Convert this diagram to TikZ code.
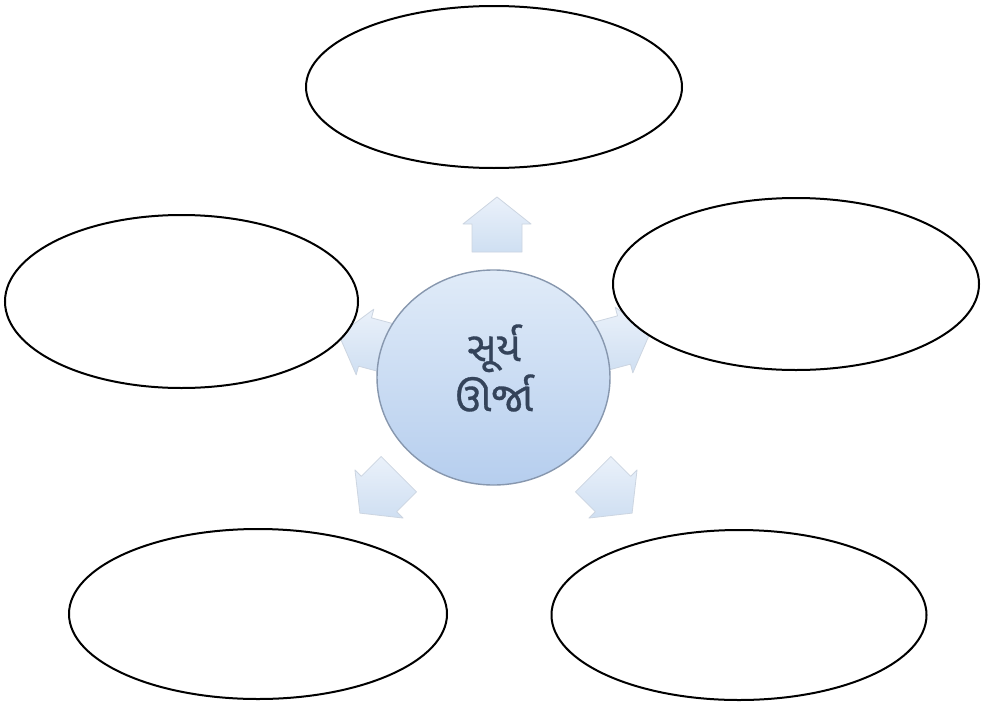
\documentclass[tikz,border=0pt]{standalone}
\usepackage{fontspec}
\newfontfamily\gujfont[Script=Gujarati,FakeBold=0.8]{Noto Sans Gujarati UI}
\usetikzlibrary{shapes.geometric}
\definecolor{arrowtop}{HTML}{EAF1FA}
\definecolor{arrowbot}{HTML}{CFDFF2}
\definecolor{arrowedge}{HTML}{CCD5E1}
\definecolor{suntop}{HTML}{E0EBF8}
\definecolor{sunbot}{HTML}{B6CEEE}
\definecolor{sunedge}{HTML}{8797AE}
\definecolor{suntext}{HTML}{34435A}
\tikzset{
  blank/.style={ellipse, draw=black, line width=2pt, fill=white, inner sep=0pt},
  arrowfill/.style={top color=arrowtop, bottom color=arrowbot, draw=arrowedge, line width=0.8pt, line join=round},
  barrow/.pic={\path[arrowfill] (-28,-25) -- (0,-25) -- (0,-34) -- (27,0) -- (0,34) -- (0,25) -- (-28,25) -- cycle;},
  sun/.style={ellipse, draw=sunedge, line width=1.4pt, top color=suntop, bottom color=sunbot, inner sep=0pt,
    minimum width=233pt, minimum height=215pt},
  suntxt/.style={text=suntext, align=center, inner sep=0pt, font=\gujfont\fontsize{41}{50}\selectfont}
}
\begin{document}
\begin{tikzpicture}[x=1pt,y=-1pt]
\useasboundingbox[fill=white] (0,0) rectangle (987,704);
% decorative block arrows (behind everything)
\pic[rotate=90]  at (497,224) {barrow};
\pic[rotate=165] at (365,342) {barrow};
\pic[rotate=15]  at (624,340) {barrow};
\pic[rotate=225] at (379,494) {barrow};
\pic[rotate=-45] at (613,494) {barrow};
% centre
\node[sun] (c) at (493.5,377.5) {};
\node[suntxt] (ct) at (494,368) {સૂર્ય\\ઊર્જા};
% blank ellipses
\node[blank, minimum width=376pt, minimum height=162pt] (t)  at (494,87) {};
\node[blank, minimum width=353pt, minimum height=173pt] (l)  at (181.5,301.5) {};
\node[blank, minimum width=366pt, minimum height=172pt] (r)  at (796,284) {};
\node[blank, minimum width=378pt, minimum height=170pt] (bl) at (258,614) {};
\node[blank, minimum width=375pt, minimum height=170pt] (br) at (739,615) {};
\end{tikzpicture}
\end{document}
